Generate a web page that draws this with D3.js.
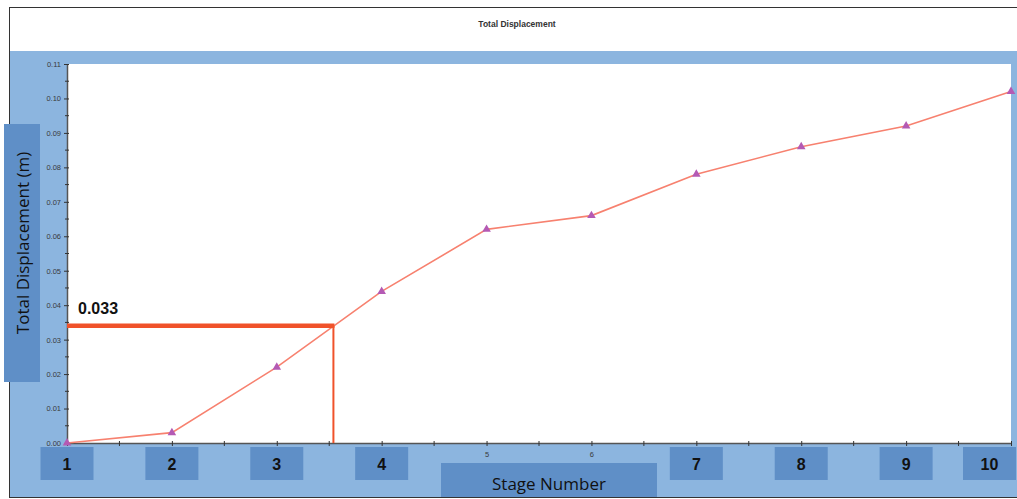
<!DOCTYPE html>
<html>
<head>
<meta charset="utf-8">
<script src="https://cdnjs.cloudflare.com/ajax/libs/d3/7.8.5/d3.min.js"></script>
<style>
  body { margin: 0; background: #fff; }
  svg { display: block; }
</style>
</head>
<body>
<div id="chart"></div>
<script>
// data
var stages = [1, 2, 3, 4, 5, 6, 7, 8, 9, 10];
var displacement = [0.000, 0.003, 0.022, 0.044, 0.062, 0.066, 0.078, 0.086, 0.092, 0.102];
var yTicks = [0.00, 0.01, 0.02, 0.03, 0.04, 0.05, 0.06, 0.07, 0.08, 0.09, 0.10, 0.11];
var boxedStages = [1, 2, 3, 4, 7, 8, 9, 10];
var markLabel = 0.033;   // value written on the annotation
var markLevel = 0.034;   // where the annotation line is actually drawn
var markStage = 3.54;

//chart setup
var svgWidth = 1017;
var svgHeight = 499;

var margin = { top: 64, right: 6, bottom: 56, left: 67 };
var width = svgWidth - margin.left - margin.right;
var height = svgHeight - margin.top - margin.bottom;

var svg = d3.select("#chart")
  .append("svg")
  .attr("width", svgWidth)
  .attr("height", svgHeight);

// outer frame, white title strip, blue panel
svg.append("rect")
  .attr("x", 9.5).attr("y", 7.5)
  .attr("width", svgWidth - 9).attr("height", 490)
  .attr("fill", "#fff")
  .attr("stroke", "#333");

svg.append("rect")
  .attr("x", 10).attr("y", 51)
  .attr("width", svgWidth - 10).attr("height", 446)
  .attr("fill", "#8cb5df");

svg.append("text")
  .attr("x", 517).attr("y", 27)
  .attr("text-anchor", "middle")
  .style("font-family", "Liberation Sans, Arial, sans-serif")
  .style("font-size", "8.5px")
  .style("font-weight", "bold")
  .attr("fill", "#333")
  .text("Total Displacement");

var chartGroup = svg.append("g")
  .attr("transform", `translate(${margin.left}, ${margin.top})`);

chartGroup.append("rect")
  .attr("width", width)
  .attr("height", height)
  .attr("fill", "#fff");

// scales
var xScale = d3.scaleLinear().domain([1, 10]).range([0, width]);
var yScale = d3.scaleLinear().domain([0, 0.11]).range([height, 0]);

// minor ticks (half steps)
var xMinor = d3.range(1.5, 10, 1);
var yMinor = d3.range(0.005, 0.11, 0.01);

// the small axis numbers under the boxes are hidden, so only print the rest
var bottomAxis = d3.axisBottom(xScale)
  .tickValues(stages)
  .tickFormat(d => boxedStages.includes(d) ? "" : d3.format("d")(d))
  .tickSizeInner(3)
  .tickSizeOuter(0);

var leftAxis = d3.axisLeft(yScale)
  .tickValues(yTicks)
  .tickFormat(d3.format(".2f"))
  .tickSizeInner(3)
  .tickSizeOuter(0);

var xAxis = chartGroup.append("g")
  .attr("transform", `translate(0, ${height})`)
  .call(bottomAxis);

var yAxis = chartGroup.append("g")
  .call(leftAxis);

[xAxis, yAxis].forEach(function(ax) {
  ax.select(".domain").attr("stroke", "#555").attr("stroke-width", 1.5);
  ax.selectAll(".tick line").attr("stroke", "#333");
  ax.selectAll("text")
    .style("font-family", "Liberation Sans, Arial, sans-serif")
    .style("font-size", "7.5px")
    .attr("fill", "#3a3a3a");
});
xAxis.selectAll(".tick line").attr("y1", -2).attr("y2", 3);
xAxis.selectAll(".tick text").attr("y", 9);
yAxis.selectAll(".tick line").attr("x1", 2).attr("x2", -3);

// minor tick marks
chartGroup.append("g").selectAll("line")
  .data(xMinor).enter().append("line")
  .attr("x1", d => xScale(d)).attr("x2", d => xScale(d))
  .attr("y1", height - 2).attr("y2", height + 3)
  .attr("stroke", "#333");

chartGroup.append("g").selectAll("line")
  .data(yMinor).enter().append("line")
  .attr("x1", -2).attr("x2", 2)
  .attr("y1", d => yScale(d)).attr("y2", d => yScale(d))
  .attr("stroke", "#333");

// data line
var points = stages.map((s, i) => [s, displacement[i]]);
var line = d3.line()
  .x(d => xScale(d[0]))
  .y(d => yScale(d[1]));

chartGroup.append("path")
  .datum(points)
  .attr("d", line)
  .attr("fill", "none")
  .attr("stroke", "#f7816f")
  .attr("stroke-width", 1.6);

// triangle markers
var tri = d3.symbol().type(d3.symbolTriangle).size(32);
chartGroup.append("g").selectAll("path")
  .data(points).enter().append("path")
  .attr("d", tri)
  .attr("transform", d => `translate(${xScale(d[0])}, ${yScale(d[1])})`)
  .attr("fill", "#b45ab4");

// 0.033 annotation
chartGroup.append("line")
  .attr("x1", xScale(markStage)).attr("x2", xScale(markStage))
  .attr("y1", yScale(markLevel)).attr("y2", height)
  .attr("stroke", "#f0522a")
  .attr("stroke-width", 2);

chartGroup.append("line")
  .attr("x1", 0).attr("x2", xScale(markStage) + 1)
  .attr("y1", yScale(markLevel)).attr("y2", yScale(markLevel))
  .attr("stroke", "#f0522a")
  .attr("stroke-width", 4.5);

chartGroup.append("text")
  .attr("x", 11)
  .attr("y", yScale(markLevel) - 12)
  .style("font-family", "Liberation Sans, Arial, sans-serif")
  .style("font-size", "16px")
  .style("font-weight", "bold")
  .attr("fill", "#111")
  .text(d3.format(".3f")(markLabel));

// boxed stage labels over the x axis
var boxW = 53, boxH = 33;
var boxGroup = svg.append("g");
boxedStages.forEach(function(s) {
  var cx = margin.left + xScale(s);
  var bx = Math.min(cx - boxW / 2, svgWidth - 1 - boxW);
  boxGroup.append("rect")
    .attr("x", bx).attr("y", 447)
    .attr("width", boxW).attr("height", boxH)
    .attr("fill", "#5f8fc7");
  boxGroup.append("text")
    .attr("x", bx + boxW / 2)
    .attr("y", 470)
    .attr("text-anchor", "middle")
    .style("font-family", "Liberation Sans, Arial, sans-serif")
    .style("font-size", "16px")
    .style("font-weight", "bold")
    .attr("fill", "#111")
    .text(s);
});

// x axis title box
svg.append("rect")
  .attr("x", 441).attr("y", 463)
  .attr("width", 216).attr("height", 34)
  .attr("fill", "#5f8fc7");
svg.append("text")
  .attr("x", 549).attr("y", 490)
  .attr("text-anchor", "middle")
  .style("font-family", "Open Sans, sans-serif")
  .style("font-size", "17px")
  .attr("fill", "#111")
  .text("Stage Number");

// y axis title box
svg.append("rect")
  .attr("x", 4).attr("y", 124)
  .attr("width", 36).attr("height", 258)
  .attr("fill", "#5f8fc7");
svg.append("text")
  .attr("transform", "translate(29, 243) rotate(-90)")
  .attr("text-anchor", "middle")
  .style("font-family", "Open Sans, sans-serif")
  .style("font-size", "17px")
  .attr("fill", "#111")
  .text("Total Displacement (m)");
</script>
</body>
</html>
